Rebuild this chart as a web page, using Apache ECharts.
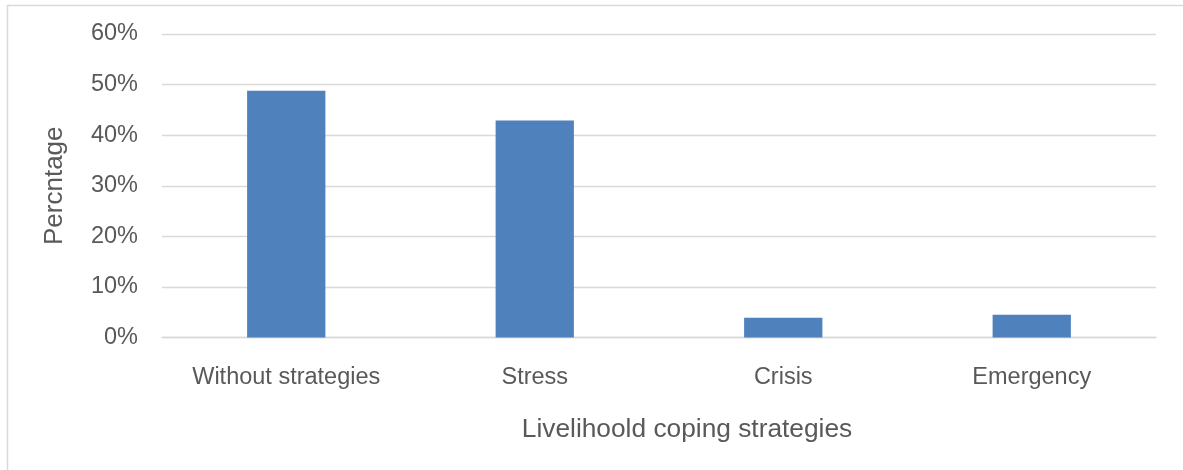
<!DOCTYPE html>
<html>
<head>
<meta charset="utf-8">
<script src="https://cdn.jsdelivr.net/npm/echarts@6/dist/echarts.min.js"></script>
<style>
html,body{margin:0;padding:0;background:#fff;}
#chart{width:1183px;height:470px;}
</style>
</head>
<body>
<div id="chart"></div>
<script>
const categories = ['Without strategies', 'Stress', 'Crisis', 'Emergency'];
const percentages = [48.8, 42.9, 3.9, 4.5];
const yTicks = [0, 10, 20, 30, 40, 50, 60];
const xTitle = 'Livelihoold coping strategies';
const yTitle = 'Percntage';

const chart = echarts.init(document.getElementById('chart'), null, {renderer: 'canvas'});
const font = '"Liberation Sans", Arial, sans-serif';
chart.setOption({
  animation: false,
  grid: {left: 162, right: 27, top: 34, bottom: 132.5, containLabel: false},
  xAxis: {
    type: 'category',
    data: categories,
    axisLine: {show: true, lineStyle: {color: '#d9d9d9', width: 1.3}},
    axisTick: {show: false},
    axisLabel: {color: '#595959', fontSize: 23.5, fontFamily: font, margin: 28}
  },
  yAxis: {
    type: 'value',
    min: yTicks[0],
    max: yTicks[yTicks.length - 1],
    interval: 10,
    name: yTitle,
    nameLocation: 'middle',
    nameRotate: 90,
    nameGap: 94,
    nameTextStyle: {color: '#595959', fontSize: 26, fontFamily: font},
    axisLine: {show: false},
    axisTick: {show: false},
    splitLine: {lineStyle: {color: '#d9d9d9', width: 1.3}},
    axisLabel: {color: '#595959', fontSize: 23.5, fontFamily: font, margin: 24, formatter: '{value}%', padding: [6, 0, 0, 0]}
  },
  graphic: [
    {type: 'polyline', silent: true, shape: {points: [[7.5, 470], [7.5, 5.5], [1183, 5.5]]},
     style: {stroke: '#d9d9d9', lineWidth: 1.5, fill: null}},
    {type: 'text', silent: true, style: {text: xTitle, x: 687, y: 430, textAlign: 'center', textVerticalAlign: 'middle',
      fill: '#595959', fontSize: 26.3, fontFamily: font}}
  ],
  series: [{
    type: 'bar',
    data: percentages,
    barWidth: '31.5%',
    itemStyle: {color: '#4f81bd'}
  }]
});
</script>
</body>
</html>
